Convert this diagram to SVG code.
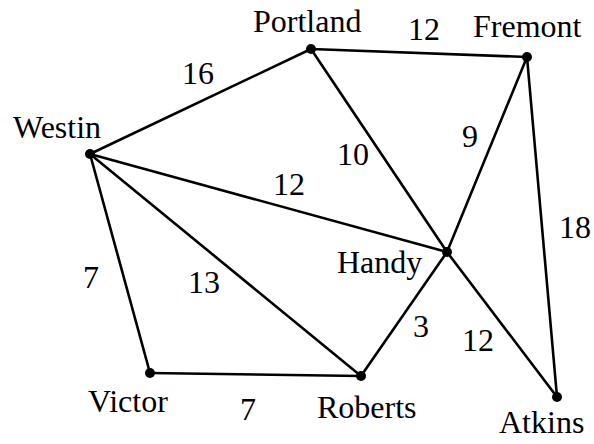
<svg xmlns="http://www.w3.org/2000/svg" width="594" height="444" viewBox="0 0 594 444">
<style>
.e{stroke:#000;stroke-width:2.6;fill:none;stroke-linecap:round}
.d{fill:#000}
text{font-family:"Liberation Serif","Times New Roman",Times,Tinos,"Nimbus Roman","Nimbus Roman No9 L",FreeSerif,"DejaVu Serif","Noto Serif",serif;font-size:32px;fill:#000}
</style>
<rect width="594" height="444" fill="#fff"/>
<g id="connectors">
<line class="e" x1="90" y1="154" x2="311" y2="49"/>
<line class="e" x1="311" y1="49" x2="527" y2="57"/>
<line class="e" x1="311" y1="49" x2="447" y2="252"/>
<line class="e" x1="527" y1="57" x2="447" y2="252"/>
<line class="e" x1="527" y1="57" x2="557" y2="397"/>
<line class="e" x1="90" y1="154" x2="447" y2="252"/>
<line class="e" x1="90" y1="154" x2="150" y2="373"/>
<line class="e" x1="90" y1="154" x2="361" y2="376"/>
<line class="e" x1="447" y1="252" x2="361" y2="376"/>
<line class="e" x1="447" y1="252" x2="557" y2="397"/>
<line class="e" x1="150" y1="373" x2="361" y2="376"/>
<text x="182" y="84">16</text>
<text x="408" y="40">12</text>
<text x="337" y="165">10</text>
<text x="462" y="147">9</text>
<text x="273" y="195">12</text>
<text x="559" y="238">18</text>
<text x="83" y="288">7</text>
<text x="188" y="293">13</text>
<text x="240" y="420">7</text>
<text x="413" y="337">3</text>
<text x="462" y="351">12</text>
</g>
<g id="portland"><circle class="d" cx="311" cy="49" r="5"/><text x="253" y="32">Portland</text></g>
<g id="fremont"><circle class="d" cx="527" cy="57" r="5"/><text x="473" y="37">Fremont</text></g>
<g id="westin"><circle class="d" cx="90" cy="154" r="5"/><text x="13" y="138">Westin</text></g>
<g id="handy"><circle class="d" cx="447" cy="252" r="5"/><text x="337" y="273">Handy</text></g>
<g id="victor"><circle class="d" cx="150" cy="373" r="5"/><text x="88" y="412">Victor</text></g>
<g id="roberts"><circle class="d" cx="361" cy="376" r="5"/><text x="317" y="418">Roberts</text></g>
<g id="atkins"><circle class="d" cx="557" cy="397" r="5"/><text x="499" y="433">Atkins</text></g>
</svg>
